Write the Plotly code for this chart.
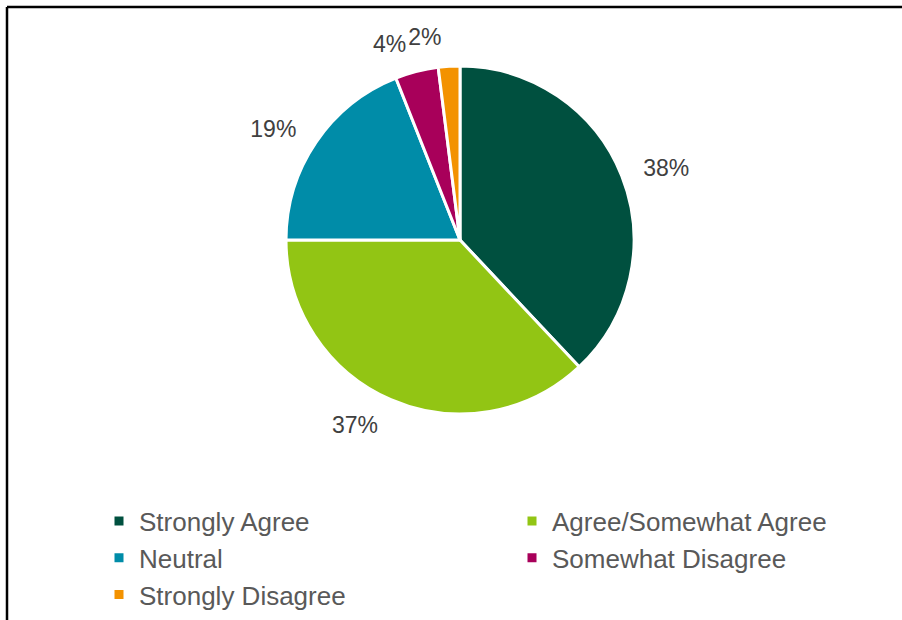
import plotly.graph_objects as go

categories = ["Strongly Agree", "Agree/Somewhat Agree", "Neutral",
              "Somewhat Disagree", "Strongly Disagree"]
values = [38, 37, 19, 4, 2]
colors = ["#00503F", "#92C514", "#008CA8", "#A8005A", "#F39200"]

W, H = 902, 620
FONT = "Liberation Sans, Arial, sans-serif"

# pie centre / radius in pixels, and a slightly larger invisible pie that
# only carries the outside percentage labels (so they sit a bit further out)
CX, CY, R, R_LABEL = 460, 240, 174, 190


def domain(r):
    return dict(x=[(CX - r) / W, (CX + r) / W],
                y=[(H - CY - r) / H, (H - CY + r) / H])


n = len(values)
labels_a = ["outside"] * (n - 1) + ["none"]
labels_b = ["none"] * (n - 1) + ["outside"]
transparent = ["rgba(0,0,0,0)"] * n

fig = go.Figure()
fig.add_trace(go.Pie(
    labels=categories, values=values, sort=False,
    direction="clockwise", rotation=0,
    marker=dict(colors=colors, line=dict(color="white", width=3)),
    textinfo="none", textposition="none",
    domain=domain(R),
    hoverinfo="label+percent",
))
for pos in (labels_a, labels_b):
    fig.add_trace(go.Pie(
        labels=categories, values=values, sort=False,
        direction="clockwise", rotation=0,
        marker=dict(colors=transparent, line=dict(color="rgba(0,0,0,0)", width=0)),
        textinfo="percent", textposition=pos,
        textfont=dict(family=FONT, size=23, color="#404040"),
        domain=domain(R_LABEL),
        showlegend=False, hoverinfo="skip",
    ))

fig.update_layout(
    width=W, height=H,
    margin=dict(l=0, r=0, t=0, b=0, autoexpand=False),
    paper_bgcolor="white",
    plot_bgcolor="white",
    showlegend=True,
    legend=dict(
        orientation="h",
        x=99 / W, xanchor="left",
        y=1 - 558 / H, yanchor="middle",
        entrywidth=368, entrywidthmode="pixels",
        font=dict(family=FONT, size=26, color="#595959"),
        traceorder="normal",
        bgcolor="rgba(0,0,0,0)",
    ),
    shapes=[
        dict(type="line", xref="paper", yref="paper",
             x0=7 / W, y0=1 - 7 / H, x1=7 / W, y1=0,
             line=dict(color="black", width=2.5)),
        dict(type="line", xref="paper", yref="paper",
             x0=7 / W, y0=1 - 7 / H, x1=1, y1=1 - 7 / H,
             line=dict(color="black", width=2.5)),
    ],
)

fig.write_html(
    "out.html",
    config={"displayModeBar": False},
    post_script="document.body.style.margin='0';document.body.style.overflow='hidden';",
)
